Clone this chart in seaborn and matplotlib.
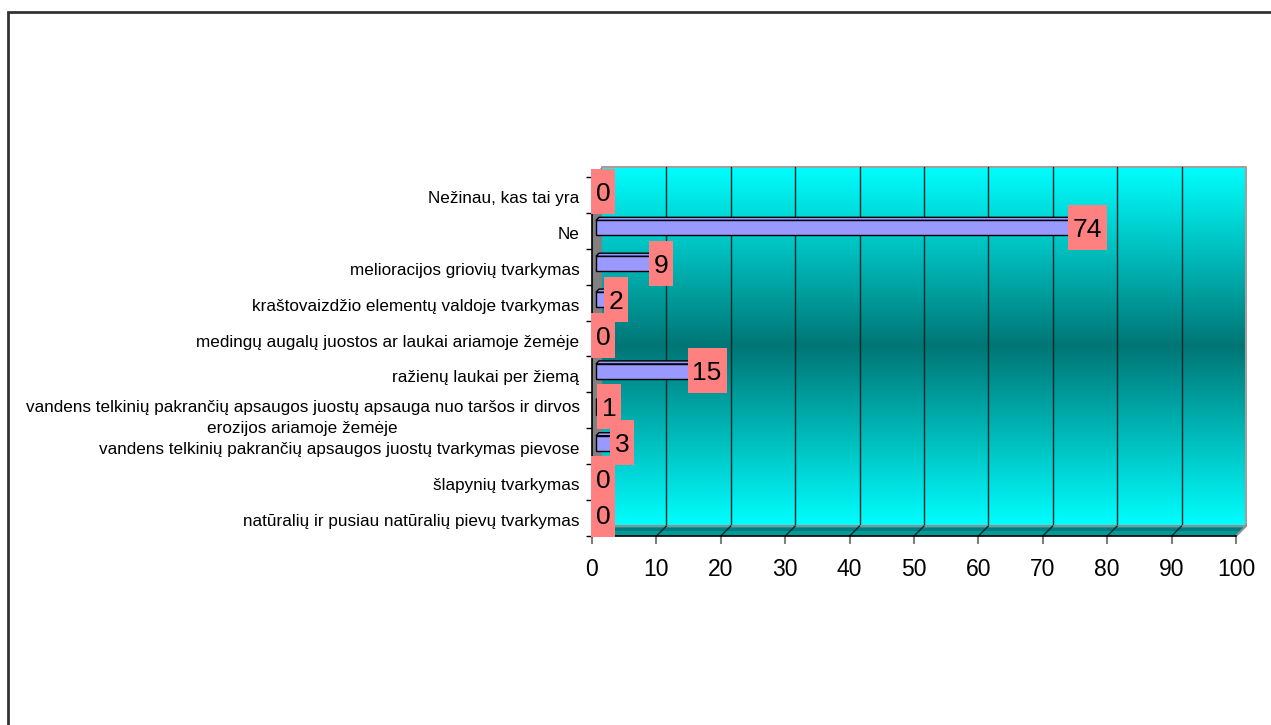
import numpy as np
import pandas as pd
import matplotlib
matplotlib.use("Agg")
import matplotlib.pyplot as plt
import matplotlib.transforms as mtransforms
import seaborn as sns
from matplotlib.patches import Polygon, Rectangle

categories = [
    "Nežinau, kas tai yra",
    "Ne",
    "melioracijos griovių tvarkymas",
    "kraštovaizdžio elementų valdoje tvarkymas",
    "medingų augalų juostos ar laukai ariamoje žemėje",
    "ražienų laukai per žiemą",
    "vandens telkinių pakrančių apsaugos juostų apsauga nuo taršos ir dirvos\nerozijos ariamoje žemėje",
    "vandens telkinių pakrančių apsaugos juostų tvarkymas pievose",
    "šlapynių tvarkymas",
    "natūralių ir pusiau natūralių pievų tvarkymas",
]
values = [0, 74, 9, 2, 0, 15, 1, 3, 0, 0]
x_ticks = [0, 10, 20, 30, 40, 50, 60, 70, 80, 90, 100]

sns.set_theme(style="white")
plt.rcParams["font.family"] = ["Liberation Sans", "DejaVu Sans"]
plt.rcParams["text.color"] = "black"
plt.rcParams["xtick.labelcolor"] = "black"
plt.rcParams["ytick.labelcolor"] = "black"

W, H = 1271, 725
fig = plt.figure(figsize=(W / 100, H / 100), dpi=100)
fig.patch.set_facecolor("white")

# front plane of the 3-D box, in pixels
L, R, T, B = 592, 1236, 177, 536
ax = fig.add_axes([L / W, 1 - B / H, (R - L) / W, (B - T) / H])
ax.patch.set_visible(False)

n = len(categories)
XMAX = 100
PX = XMAX / (R - L)          # data units per pixel (x)
PY = n / (B - T)             # rows per pixel (y)
DX, DY = 10 * PX, 10 * PY    # depth of the box

df = pd.DataFrame({"category": categories, "value": values})
sns.barplot(data=df, x="value", y="category", orient="h", color="#9999FF",
            saturation=1, width=0.42, edgecolor="black", linewidth=1,
            ax=ax, zorder=3)

# back wall with vertical gradient
t = np.linspace(0, 1, 400)
shade = 1 - (1 - 0.46) * (1 - np.abs(2 * t - 1))
img = np.zeros((len(t), 1, 3))
img[:, 0, 1] = shade
img[:, 0, 2] = shade
ax.imshow(img, extent=(DX, XMAX + DX, n - 0.5 - DY, -0.5 - DY), aspect="auto",
          interpolation="bilinear", zorder=0, clip_on=False)

# wall outline
ax.plot([DX, XMAX + DX, XMAX + DX], [-0.5 - DY, -0.5 - DY, n - 0.5 - DY],
        color="#A0A0A0", lw=1.5, zorder=0.5, clip_on=False)

# gridlines on the back wall and floor
for v in x_ticks[1:-1]:
    ax.plot([v + DX, v + DX], [-0.5 - DY, n - 0.5 - DY], color="#042828",
            lw=1, zorder=0.6, clip_on=False)

# left side wall
ax.add_patch(Polygon([(0, -0.5), (DX, -0.5 - DY), (DX, n - 0.5 - DY), (0, n - 0.5)],
                     closed=True, fc="#808080", ec="none", zorder=0.7, clip_on=False))

# floor
ax.add_patch(Polygon([(0, n - 0.5), (XMAX, n - 0.5), (XMAX + DX, n - 0.5 - DY),
                      (DX, n - 0.5 - DY)],
                     closed=True, fc="#009A9A", ec="none", zorder=0.7, clip_on=False))
ax.add_patch(Polygon([(0.5 * DX, n - 0.5 - 0.5 * DY), (XMAX + 0.5 * DX, n - 0.5 - 0.5 * DY),
                      (XMAX + 0.8 * DX, n - 0.5 - 0.8 * DY), (0.8 * DX, n - 0.5 - 0.8 * DY)],
                     closed=True, fc="#007C7C", ec="none", zorder=0.75, clip_on=False))
ax.plot([DX, XMAX + DX, XMAX], [n - 0.5 - DY, n - 0.5 - DY, n - 0.5],
        color="#909090", lw=1.5, zorder=0.8, clip_on=False)
for v in x_ticks[1:-1]:
    ax.plot([v, v + DX], [n - 0.5, n - 0.5 - DY], color="#042828", lw=1,
            zorder=0.8, clip_on=False)

# give the bars a little depth
bx, by = 4 * PX, 3 * PY
tdx, tdy = 3 * PX, 3 * PY
for p in list(ax.patches):
    if not isinstance(p, Rectangle):
        continue
    p.set_x(p.get_x() + bx)
    p.set_y(p.get_y() - by)
    x0, y0 = p.get_x(), p.get_y()
    x1, y1 = x0 + p.get_width(), y0 + p.get_height()
    if p.get_width() <= 0:
        continue
    ax.add_patch(Polygon([(x0, y0), (x1, y0), (x1 + tdx, y0 - tdy), (x0 + tdx, y0 - tdy)],
                         closed=True, fc="#9999FF", ec="black", lw=1, zorder=3,
                         clip_on=False))
    ax.add_patch(Polygon([(x1, y0), (x1 + tdx, y0 - tdy), (x1 + tdx, y1 - tdy), (x1, y1)],
                         closed=True, fc="#6f6fcc", ec="black", lw=1, zorder=3,
                         clip_on=False))

# value labels on salmon boxes
box_h = 45 * PY
for i, v in enumerate(values):
    label = str(v)
    box_w = (9 + 15 * len(label)) * PX
    left = v + bx - 5 * PX
    cy = i - 3.5 * PY
    ax.add_patch(Rectangle((left, cy - box_h / 2), box_w, box_h, fc="#FF8080",
                           ec="none", zorder=5, clip_on=False))
    ax.text(left + box_w / 2, cy, label, ha="center", va="center_baseline",
            fontsize=19, color="black", zorder=6, clip_on=False)

ax.set_xlim(0, XMAX)
ax.set_ylim(n - 0.5, -0.5)
ax.set_xlabel("")
ax.set_ylabel("")

ax.set_xticks(x_ticks)
ax.set_xticklabels([str(v) for v in x_ticks], fontsize=16.5)
ax.tick_params(axis="x", which="major", bottom=True, length=5.5, width=1.5,
               color="#808080", direction="out", pad=10)

ax.set_yticks(range(n))
ax.set_yticklabels(categories, fontsize=12.3)
ax.set_yticks(np.arange(-0.5, n, 1), minor=True)
ax.tick_params(axis="y", which="major", left=True, length=0, pad=9)
ax.tick_params(axis="y", which="minor", left=True, length=4.5, width=1,
               color="black", direction="out")
for lbl in ax.get_yticklabels():
    lbl.set_multialignment("center")
    lbl.set_linespacing(1.5)
    dy = -3 if "\n" in lbl.get_text() else -2
    shift = mtransforms.ScaledTranslation(0, dy / 100, fig.dpi_scale_trans)
    lbl.set_transform(lbl.get_transform() + shift)

for side in ("top", "right"):
    ax.spines[side].set_visible(False)
for side in ("left", "bottom"):
    ax.spines[side].set_color("black")
    ax.spines[side].set_linewidth(1.2)
    ax.spines[side].set_zorder(4)

# outer chart frame
fig.patches.append(Rectangle((8 / W, -0.1), 1.2, 1 - 12 / H + 0.1,
                             transform=fig.transFigure, fill=False,
                             ec="#333333", lw=2))

fig.savefig("out.png", dpi=100)
